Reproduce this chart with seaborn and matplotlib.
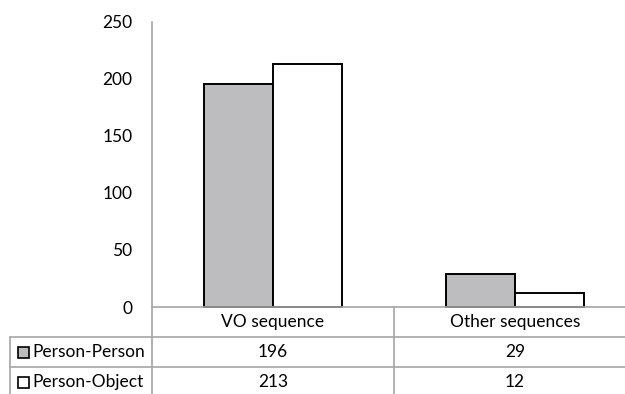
import matplotlib
matplotlib.use("Agg")
import matplotlib.pyplot as plt
from matplotlib.lines import Line2D
from matplotlib.patches import Rectangle
import seaborn as sns
import pandas as pd

# Data
categories = ["VO sequence", "Other sequences"]
series = ["Person-Person", "Person-Object"]
person_person = [196, 29]
person_object = [213, 12]
y_ticks = [0, 50, 100, 150, 200, 250]

GRAY_FILL = "#bcbdc0"
GRID_GRAY = "#a6a6a6"
FS = 12.5

sns.set_theme(style="white")
plt.rcParams["font.family"] = ["Lato", "DejaVu Sans"]

df = pd.DataFrame({
    "category": categories * 2,
    "series": [series[0]] * len(categories) + [series[1]] * len(categories),
    "value": person_person + person_object,
})

W, H = 625, 394
fig = plt.figure(figsize=(W / 100, H / 100), dpi=100)

# plot area in pixel coordinates (left, top, right, bottom)
L, T, R, B = 152, 22, 636, 307
ax = fig.add_axes([L / W, 1 - B / H, (R - L) / W, (B - T) / H])

sns.barplot(
    data=df, x="category", y="value", hue="series",
    order=categories, hue_order=series,
    palette=[GRAY_FILL, "white"], width=0.57,
    edgecolor="black", linewidth=1.4, ax=ax, legend=False,
)
for p in ax.patches:
    p.set_clip_on(False)

ax.set_xlim(-0.5, len(categories) - 0.5)
ax.set_ylim(0, 250)
ax.set_yticks(y_ticks)
ax.set_yticklabels([str(v) for v in y_ticks], fontsize=12.5, color="black")
ax.tick_params(axis="y", length=0, pad=14)
ax.set_xticks([])
ax.set_xlabel("")
ax.set_ylabel("")
for side in ("top", "right"):
    ax.spines[side].set_visible(False)
for side in ("left", "bottom"):
    ax.spines[side].set_color(GRID_GRAY)
    ax.spines[side].set_linewidth(1.2)
ax.spines["left"].set_zorder(0)


def fx(x):
    return x / W


def fy(y):
    return 1 - y / H


def hline(y, x0, x1):
    fig.add_artist(Line2D([fx(x0), fx(x1)], [fy(y), fy(y)], color=GRID_GRAY,
                          lw=1.2, transform=fig.transFigure))


def vline(x, y0, y1):
    fig.add_artist(Line2D([fx(x), fx(x)], [fy(y0), fy(y1)], color=GRID_GRAY,
                          lw=1.2, transform=fig.transFigure))


# data table under the plot
row_h = 30
header_top = B
col_w = (R - L) / len(categories)
table_left = 10
rows_top = header_top + row_h

vline(L, B, H + 5)
for i in range(1, len(categories)):
    vline(L + i * col_w, B, H + 5)
vline(table_left, rows_top, H + 5)
hline(rows_top, table_left, R)
hline(rows_top + row_h, table_left, R)

for i, cat in enumerate(categories):
    cx = L + (i + 0.5) * col_w
    fig.text(fx(cx), fy(header_top + row_h / 2), cat, ha="center", va="center",
             fontsize=FS, color="black")

rows = [(series[0], person_person, GRAY_FILL), (series[1], person_object, "white")]
for r, (name, vals, fill) in enumerate(rows):
    cy = rows_top + r * row_h + row_h / 2
    fig.add_artist(Rectangle((fx(18), fy(cy + 5.5)), 11 / W, 11 / H,
                             facecolor=fill, edgecolor="black", lw=1.2,
                             transform=fig.transFigure))
    fig.text(fx(32), fy(cy), name, ha="left", va="center", fontsize=FS,
             color="black")
    for i, v in enumerate(vals):
        cx = L + (i + 0.5) * col_w
        fig.text(fx(cx), fy(cy), str(v), ha="center", va="center",
                 fontsize=FS, color="black")

fig.savefig("out.png", dpi=100, facecolor="white")
